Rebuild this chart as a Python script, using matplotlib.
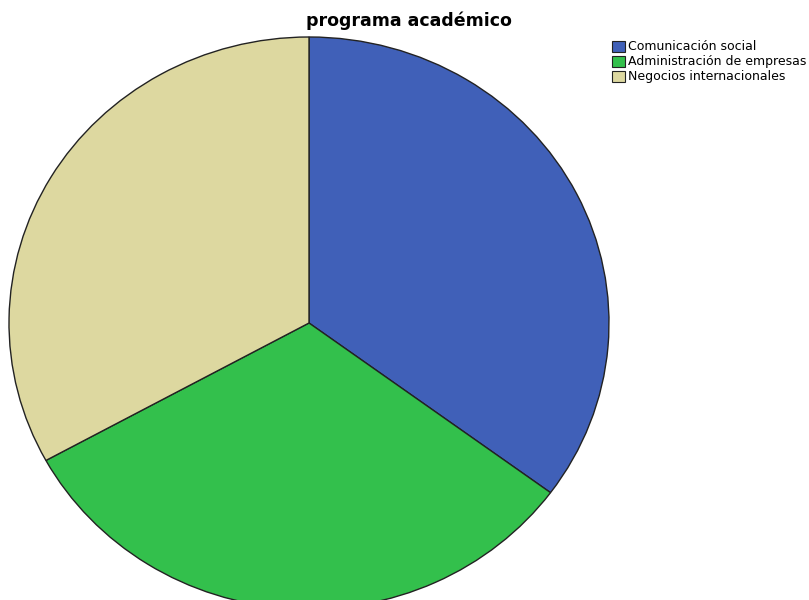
import matplotlib
matplotlib.use("Agg")
import matplotlib.pyplot as plt
from matplotlib.patches import Rectangle

plt.rcParams['font.family'] = ['DejaVu Sans']

# programa académico - frecuencias (estimadas del gráfico)
programas = ["Comunicación social", "Administración de empresas", "Negocios internacionales"]
frecuencias = [33, 30, 31]
colores = ["#4060B8", "#33C04C", "#DDD8A0"]

W, H = 809, 600
fig = plt.figure(figsize=(W / 100, H / 100), dpi=100)

# pie area in pixels (ellipse, slightly flattened like the SPSS output)
left, right = 9, 609
top, bottom = 37, 609
ax = fig.add_axes([left / W, (H - bottom) / H, (right - left) / W, (bottom - top) / H])
wedges, _ = ax.pie(frecuencias, colors=colores, startangle=90, counterclock=False,
                   wedgeprops=dict(edgecolor="#222222", linewidth=1.0))
ax.set_aspect('auto')
ax.set_xlim(-1, 1)
ax.set_ylim(-1, 1)
ax.axis('off')

# overlay in pixel coordinates for title and legend
ov = fig.add_axes([0, 0, 1, 1], zorder=5)
ov.set_xlim(0, W)
ov.set_ylim(H, 0)
ov.axis('off')

ov.text(408.5, 26, "programa académico", ha='center', va='baseline',
        fontsize=12.5, fontweight='bold')

for i, (lab, col) in enumerate(zip(programas, colores)):
    y = 46.5 + i * 15
    ov.add_patch(Rectangle((612.5, y - 5.5), 13, 11, facecolor=col,
                           edgecolor="#222222", linewidth=0.8))
    ov.text(628, y, lab, ha='left', va='center', fontsize=9)

fig.savefig("out.png", dpi=100)
